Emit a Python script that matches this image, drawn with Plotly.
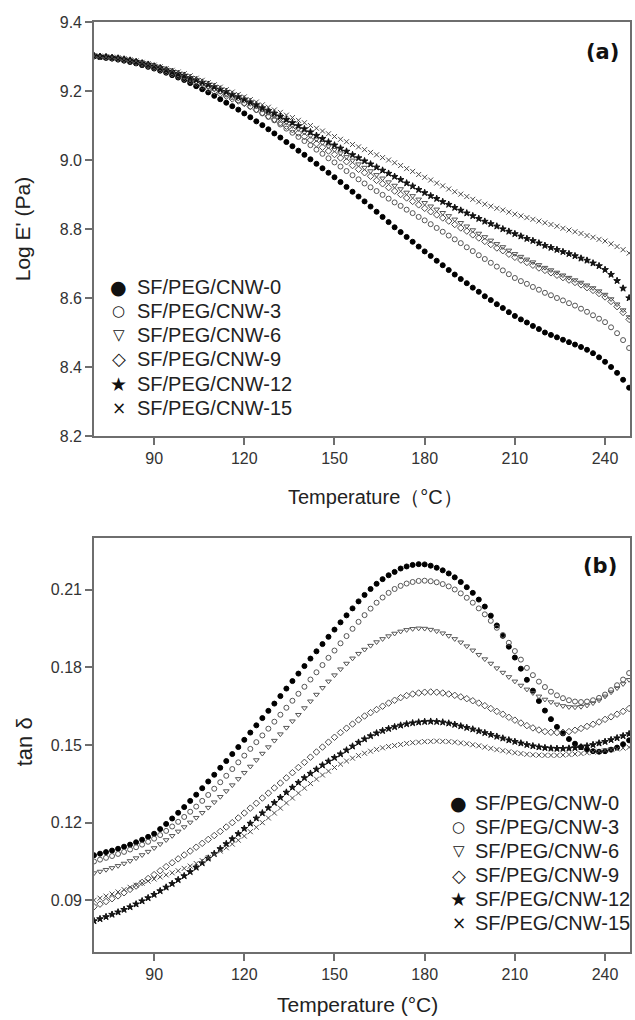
import plotly.graph_objects as go

# ---------------- data ----------------
temp = [70, 72, 74, 76, 78, 80,
        82, 84, 86, 88, 90,
        92, 94, 96, 98, 100,
        102, 104, 106, 108, 110,
        112, 114, 116, 118, 120,
        122, 124, 126, 128, 130,
        132, 134, 136, 138, 140,
        142, 144, 146, 148, 150,
        152, 154, 156, 158, 160,
        162, 164, 166, 168, 170,
        172, 174, 176, 178, 180,
        182, 184, 186, 188, 190,
        192, 194, 196, 198, 200,
        202, 204, 206, 208, 210,
        212, 214, 216, 218, 220,
        222, 224, 226, 228, 230,
        232, 234, 236, 238, 240,
        242, 244, 246, 248]

series_names = ["SF/PEG/CNW-0", "SF/PEG/CNW-3", "SF/PEG/CNW-6",
                "SF/PEG/CNW-9", "SF/PEG/CNW-12", "SF/PEG/CNW-15"]

# (a) Log E' (Pa)
logE_cnw0 = [9.300, 9.298, 9.296, 9.294, 9.291, 9.288,
             9.284, 9.280, 9.275, 9.270, 9.265,
             9.259, 9.253, 9.246, 9.239, 9.232,
             9.223, 9.214, 9.205, 9.196, 9.186,
             9.176, 9.166, 9.156, 9.146, 9.135,
             9.124, 9.112, 9.101, 9.089, 9.077,
             9.065, 9.052, 9.040, 9.027, 9.015,
             9.002, 8.989, 8.976, 8.963, 8.950,
             8.936, 8.922, 8.908, 8.894, 8.880,
             8.865, 8.850, 8.835, 8.820, 8.805,
             8.791, 8.777, 8.763, 8.749, 8.735,
             8.722, 8.708, 8.695, 8.681, 8.668,
             8.655, 8.643, 8.630, 8.618, 8.605,
             8.594, 8.582, 8.571, 8.559, 8.548,
             8.538, 8.529, 8.519, 8.510, 8.500,
             8.493, 8.486, 8.479, 8.472, 8.465,
             8.458, 8.450, 8.440, 8.428, 8.415,
             8.400, 8.383, 8.363, 8.340]
logE_cnw3 = [9.302, 9.300, 9.299, 9.297, 9.295, 9.292,
             9.289, 9.285, 9.281, 9.277, 9.272,
             9.266, 9.261, 9.255, 9.249, 9.243,
             9.236, 9.229, 9.222, 9.214, 9.207,
             9.199, 9.190, 9.182, 9.173, 9.165,
             9.155, 9.145, 9.135, 9.125, 9.115,
             9.103, 9.091, 9.079, 9.067, 9.055,
             9.043, 9.030, 9.018, 9.005, 8.993,
             8.981, 8.968, 8.956, 8.944, 8.932,
             8.921, 8.910, 8.899, 8.888, 8.877,
             8.867, 8.856, 8.846, 8.835, 8.825,
             8.814, 8.803, 8.792, 8.781, 8.770,
             8.759, 8.747, 8.736, 8.724, 8.713,
             8.702, 8.691, 8.680, 8.669, 8.658,
             8.649, 8.641, 8.632, 8.624, 8.615,
             8.608, 8.600, 8.593, 8.585, 8.578,
             8.569, 8.560, 8.550, 8.540, 8.530,
             8.515, 8.498, 8.478, 8.455]
logE_cnw6 = [9.302, 9.300, 9.298, 9.296, 9.294, 9.291,
             9.288, 9.284, 9.280, 9.275, 9.270,
             9.265, 9.259, 9.253, 9.247, 9.240,
             9.233, 9.226, 9.219, 9.212, 9.205,
             9.198, 9.192, 9.185, 9.178, 9.172,
             9.163, 9.155, 9.146, 9.137, 9.128,
             9.118, 9.109, 9.099, 9.090, 9.080,
             9.070, 9.060, 9.050, 9.040, 9.030,
             9.020, 9.009, 8.999, 8.988, 8.978,
             8.968, 8.957, 8.947, 8.936, 8.926,
             8.916, 8.906, 8.896, 8.886, 8.876,
             8.866, 8.857, 8.847, 8.838, 8.828,
             8.818, 8.808, 8.797, 8.787, 8.777,
             8.767, 8.757, 8.748, 8.738, 8.728,
             8.720, 8.712, 8.704, 8.696, 8.688,
             8.681, 8.674, 8.666, 8.659, 8.652,
             8.645, 8.637, 8.629, 8.620, 8.610,
             8.597, 8.582, 8.565, 8.545]
logE_cnw9 = [9.302, 9.300, 9.298, 9.295, 9.293, 9.290,
             9.287, 9.282, 9.278, 9.273, 9.268,
             9.262, 9.256, 9.250, 9.243, 9.236,
             9.229, 9.222, 9.214, 9.206, 9.199,
             9.192, 9.185, 9.177, 9.171, 9.164,
             9.155, 9.146, 9.137, 9.127, 9.118,
             9.108, 9.098, 9.088, 9.078, 9.068,
             9.058, 9.047, 9.037, 9.026, 9.016,
             9.006, 8.995, 8.984, 8.973, 8.963,
             8.953, 8.941, 8.931, 8.920, 8.910,
             8.900, 8.890, 8.880, 8.870, 8.860,
             8.850, 8.841, 8.832, 8.823, 8.813,
             8.803, 8.794, 8.783, 8.774, 8.764,
             8.755, 8.745, 8.737, 8.727, 8.718,
             8.710, 8.703, 8.695, 8.687, 8.680,
             8.673, 8.666, 8.659, 8.652, 8.645,
             8.638, 8.630, 8.622, 8.613, 8.603,
             8.590, 8.575, 8.558, 8.538]
logE_cnw12 = [9.302, 9.300, 9.299, 9.297, 9.295, 9.292,
              9.289, 9.285, 9.281, 9.277, 9.272,
              9.267, 9.261, 9.256, 9.250, 9.245,
              9.238, 9.232, 9.225, 9.219, 9.212,
              9.205, 9.198, 9.190, 9.183, 9.176,
              9.168, 9.160, 9.151, 9.143, 9.135,
              9.126, 9.117, 9.108, 9.099, 9.090,
              9.081, 9.071, 9.062, 9.052, 9.043,
              9.034, 9.025, 9.015, 9.006, 8.997,
              8.988, 8.979, 8.970, 8.961, 8.952,
              8.943, 8.933, 8.924, 8.914, 8.905,
              8.896, 8.888, 8.879, 8.871, 8.862,
              8.854, 8.846, 8.838, 8.830, 8.822,
              8.815, 8.808, 8.800, 8.793, 8.786,
              8.779, 8.772, 8.766, 8.759, 8.752,
              8.746, 8.740, 8.734, 8.728, 8.722,
              8.715, 8.709, 8.701, 8.693, 8.682,
              8.668, 8.650, 8.628, 8.600]
logE_cnw15 = [9.302, 9.301, 9.299, 9.298, 9.296, 9.293,
              9.290, 9.287, 9.283, 9.279, 9.275,
              9.270, 9.265, 9.260, 9.255, 9.250,
              9.244, 9.237, 9.231, 9.224, 9.218,
              9.211, 9.204, 9.197, 9.190, 9.183,
              9.175, 9.168, 9.160, 9.153, 9.145,
              9.138, 9.130, 9.123, 9.115, 9.108,
              9.100, 9.092, 9.084, 9.076, 9.068,
              9.060, 9.053, 9.045, 9.038, 9.030,
              9.022, 9.015, 9.007, 9.000, 8.992,
              8.984, 8.975, 8.967, 8.958, 8.950,
              8.942, 8.933, 8.925, 8.916, 8.908,
              8.901, 8.894, 8.886, 8.879, 8.872,
              8.866, 8.860, 8.855, 8.849, 8.843,
              8.838, 8.833, 8.828, 8.823, 8.818,
              8.813, 8.808, 8.802, 8.797, 8.792,
              8.787, 8.781, 8.776, 8.770, 8.765,
              8.757, 8.749, 8.740, 8.730]

# (b) tan delta
tan_cnw0 = [0.1074, 0.1080, 0.1086, 0.1092, 0.1099, 0.1107,
            0.1115, 0.1124, 0.1134, 0.1145, 0.1157,
            0.1175, 0.1195, 0.1216, 0.1238, 0.1260,
            0.1284, 0.1308, 0.1333, 0.1359, 0.1385,
            0.1412, 0.1438, 0.1465, 0.1492, 0.1520,
            0.1548, 0.1576, 0.1604, 0.1632, 0.1660,
            0.1689, 0.1718, 0.1747, 0.1776, 0.1805,
            0.1834, 0.1862, 0.1890, 0.1918, 0.1946,
            0.1974, 0.2001, 0.2028, 0.2055, 0.2080,
            0.2103, 0.2123, 0.2141, 0.2156, 0.2169,
            0.2182, 0.2190, 0.2196, 0.2199, 0.2198,
            0.2193, 0.2185, 0.2175, 0.2163, 0.2148,
            0.2130, 0.2110, 0.2088, 0.2062, 0.2035,
            0.2000, 0.1962, 0.1922, 0.1880, 0.1838,
            0.1795, 0.1752, 0.1710, 0.1670, 0.1633,
            0.1600, 0.1570, 0.1545, 0.1523, 0.1505,
            0.1492, 0.1482, 0.1476, 0.1474, 0.1476,
            0.1482, 0.1490, 0.1503, 0.1518]
tan_cnw3 = [0.1050, 0.1057, 0.1064, 0.1071, 0.1079, 0.1087,
            0.1096, 0.1105, 0.1115, 0.1126, 0.1138,
            0.1152, 0.1168, 0.1185, 0.1203, 0.1222,
            0.1242, 0.1262, 0.1284, 0.1307, 0.1331,
            0.1356, 0.1381, 0.1407, 0.1433, 0.1459,
            0.1485, 0.1511, 0.1537, 0.1563, 0.1590,
            0.1617, 0.1644, 0.1671, 0.1698, 0.1725,
            0.1753, 0.1781, 0.1809, 0.1837, 0.1865,
            0.1893, 0.1921, 0.1949, 0.1976, 0.2002,
            0.2027, 0.2050, 0.2070, 0.2088, 0.2103,
            0.2115, 0.2124, 0.2130, 0.2134, 0.2135,
            0.2133, 0.2129, 0.2122, 0.2113, 0.2101,
            0.2086, 0.2069, 0.2050, 0.2028, 0.2005,
            0.1980, 0.1953, 0.1925, 0.1895, 0.1863,
            0.1830, 0.1798, 0.1770, 0.1745, 0.1724,
            0.1706, 0.1692, 0.1681, 0.1673, 0.1668,
            0.1666, 0.1668, 0.1673, 0.1682, 0.1695,
            0.1712, 0.1731, 0.1753, 0.1778]
tan_cnw6 = [0.1005, 0.1011, 0.1018, 0.1025, 0.1033, 0.1042,
            0.1052, 0.1063, 0.1075, 0.1088, 0.1102,
            0.1117, 0.1133, 0.1149, 0.1166, 0.1183,
            0.1201, 0.1219, 0.1238, 0.1258, 0.1279,
            0.1300, 0.1322, 0.1345, 0.1369, 0.1393,
            0.1417, 0.1442, 0.1467, 0.1492, 0.1517,
            0.1542, 0.1567, 0.1592, 0.1617, 0.1643,
            0.1669, 0.1695, 0.1721, 0.1746, 0.1770,
            0.1793, 0.1815, 0.1835, 0.1853, 0.1869,
            0.1884, 0.1898, 0.1910, 0.1921, 0.1931,
            0.1939, 0.1945, 0.1949, 0.1951, 0.1950,
            0.1946, 0.1940, 0.1932, 0.1922, 0.1910,
            0.1897, 0.1882, 0.1866, 0.1849, 0.1832,
            0.1815, 0.1797, 0.1780, 0.1763, 0.1746,
            0.1730, 0.1715, 0.1701, 0.1688, 0.1676,
            0.1666, 0.1657, 0.1651, 0.1647, 0.1646,
            0.1648, 0.1653, 0.1662, 0.1673, 0.1688,
            0.1704, 0.1720, 0.1736, 0.1752]
tan_cnw9 = [0.0875, 0.0885, 0.0895, 0.0906, 0.0917, 0.0929,
            0.0942, 0.0955, 0.0969, 0.0984, 0.0999,
            0.1014, 0.1030, 0.1045, 0.1060, 0.1075,
            0.1090, 0.1105, 0.1120, 0.1135, 0.1150,
            0.1166, 0.1183, 0.1200, 0.1218, 0.1237,
            0.1256, 0.1275, 0.1295, 0.1314, 0.1334,
            0.1353, 0.1373, 0.1393, 0.1413, 0.1433,
            0.1453, 0.1473, 0.1492, 0.1511, 0.1530,
            0.1548, 0.1565, 0.1581, 0.1597, 0.1612,
            0.1625, 0.1637, 0.1650, 0.1662, 0.1673,
            0.1683, 0.1691, 0.1697, 0.1701, 0.1704,
            0.1705, 0.1704, 0.1701, 0.1697, 0.1692,
            0.1686, 0.1679, 0.1671, 0.1662, 0.1652,
            0.1641, 0.1630, 0.1619, 0.1607, 0.1596,
            0.1585, 0.1575, 0.1566, 0.1558, 0.1552,
            0.1549, 0.1548, 0.1549, 0.1552, 0.1557,
            0.1564, 0.1572, 0.1580, 0.1589, 0.1599,
            0.1609, 0.1619, 0.1630, 0.1641]
tan_cnw12 = [0.0820, 0.0828, 0.0836, 0.0845, 0.0854, 0.0864,
             0.0874, 0.0885, 0.0897, 0.0909, 0.0922,
             0.0936, 0.0950, 0.0964, 0.0979, 0.0994,
             0.1010, 0.1027, 0.1044, 0.1062, 0.1080,
             0.1099, 0.1118, 0.1137, 0.1157, 0.1177,
             0.1197, 0.1217, 0.1237, 0.1257, 0.1277,
             0.1297, 0.1317, 0.1336, 0.1355, 0.1373,
             0.1390, 0.1406, 0.1422, 0.1437, 0.1451,
             0.1465, 0.1480, 0.1495, 0.1510, 0.1523,
             0.1535, 0.1546, 0.1555, 0.1563, 0.1570,
             0.1576, 0.1581, 0.1585, 0.1588, 0.1590,
             0.1591, 0.1590, 0.1588, 0.1584, 0.1579,
             0.1573, 0.1567, 0.1561, 0.1554, 0.1547,
             0.1540, 0.1533, 0.1526, 0.1519, 0.1513,
             0.1507, 0.1501, 0.1496, 0.1492, 0.1489,
             0.1487, 0.1486, 0.1486, 0.1487, 0.1489,
             0.1492, 0.1496, 0.1501, 0.1507, 0.1513,
             0.1520, 0.1527, 0.1535, 0.1543]
tan_cnw15 = [0.0900, 0.0908, 0.0916, 0.0924, 0.0932, 0.0941,
             0.0950, 0.0958, 0.0966, 0.0974, 0.0982,
             0.0990, 0.0998, 0.1006, 0.1014, 0.1023,
             0.1032, 0.1042, 0.1053, 0.1065, 0.1077,
             0.1090, 0.1103, 0.1117, 0.1132, 0.1148,
             0.1165, 0.1182, 0.1200, 0.1218, 0.1237,
             0.1256, 0.1276, 0.1295, 0.1314, 0.1333,
             0.1351, 0.1368, 0.1384, 0.1399, 0.1413,
             0.1426, 0.1438, 0.1449, 0.1459, 0.1468,
             0.1476, 0.1483, 0.1489, 0.1494, 0.1498,
             0.1502, 0.1506, 0.1509, 0.1511, 0.1513,
             0.1514, 0.1515, 0.1514, 0.1513, 0.1511,
             0.1508, 0.1505, 0.1501, 0.1497, 0.1492,
             0.1487, 0.1482, 0.1478, 0.1474, 0.1470,
             0.1467, 0.1464, 0.1462, 0.1461, 0.1460,
             0.1460, 0.1460, 0.1461, 0.1463, 0.1465,
             0.1467, 0.1470, 0.1473, 0.1476, 0.1479,
             0.1482, 0.1485, 0.1488, 0.1491]

x_ticks = [90, 120, 150, 180, 210, 240]
logE_ticks = [8.2, 8.4, 8.6, 8.8, 9.0, 9.2, 9.4]
tan_ticks = [0.09, 0.12, 0.15, 0.18, 0.21]

top_series = [logE_cnw0, logE_cnw3, logE_cnw6, logE_cnw9, logE_cnw12, logE_cnw15]
bot_series = [tan_cnw0, tan_cnw3, tan_cnw6, tan_cnw9, tan_cnw12, tan_cnw15]

# ---------------- styles ----------------
symbols = ["circle", "circle-open", "triangle-down-open", "diamond-open", "star", "x-thin-open"]
colors = ["#000000", "#555555", "#555555", "#4a4a4a", "#111111", "#4a4a4a"]
sizes = [5, 5, 5, 5, 5, 5]
# legend key glyphs (text) and their font sizes
leg_glyphs = ["●", "○", "▽", "◇", "★", "×"]
leg_glyph_sizes = [19, 15, 15, 18, 19, 17]

FONT = "Liberation Sans, Arial, sans-serif"
W, H = 635, 1020
L, R, T, B = 94, 3, 22, 68


def px(x):
    return (x - L) / (W - L - R)


def py(y):
    return (H - B - y) / (H - T - B)


fig = go.Figure()

for xa, ya, data in (("x", "y", top_series), ("x2", "y2", bot_series)):
    for i, ys in enumerate(data):
        fig.add_trace(go.Scatter(
            x=temp, y=ys, mode="markers", name=series_names[i],
            xaxis=xa, yaxis=ya, showlegend=False, cliponaxis=True,
            marker=dict(symbol=symbols[i], size=sizes[i], color=colors[i],
                        line=dict(width=1, color=colors[i])),
        ))

axis_common = dict(
    showline=True, linecolor="#6e6e6e", linewidth=1.6, mirror=True,
    ticks="outside", ticklen=7, tickwidth=1.5, tickcolor="#6e6e6e",
    showgrid=False, zeroline=False,
    tickfont=dict(family=FONT, size=16, color="#333333"),
)

annotations = []
# legends (key glyph + label) drawn as text
legend_specs = [
    (119, 135, [287, 311, 335, 359, 384, 408]),
    (460, 474, [803, 827, 851, 875, 899, 923]),
]
for sym_x, txt_x, rows in legend_specs:
    for i, ry in enumerate(rows):
        annotations.append(dict(
            text=leg_glyphs[i], xref="paper", yref="paper", x=px(sym_x), y=py(ry),
            showarrow=False, xanchor="center", yanchor="middle",
            font=dict(family="DejaVu Sans", size=leg_glyph_sizes[i], color="#111111")))
        annotations.append(dict(
            text=series_names[i], xref="paper", yref="paper", x=px(txt_x), y=py(ry),
            showarrow=False, xanchor="left", yanchor="middle",
            font=dict(family=FONT, size=20, color="#222222")))

annotations += [
    dict(text="<b>(a)</b>", xref="paper", yref="paper", x=px(604), y=py(52),
         showarrow=False, font=dict(family="DejaVu Sans", size=21, color="#111111"),
         xanchor="center", yanchor="middle"),
    dict(text="<b>(b)</b>", xref="paper", yref="paper", x=px(602), y=py(566),
         showarrow=False, font=dict(family="DejaVu Sans", size=21, color="#111111"),
         xanchor="center", yanchor="middle"),
    dict(text="Temperature（°C）", xref="paper", yref="paper", x=px(377), y=py(497),
         showarrow=False, font=dict(family=FONT, size=20, color="#222222"),
         xanchor="center", yanchor="middle"),
    dict(text="Temperature (°C)", xref="paper", yref="paper", x=px(358), y=py(1005),
         showarrow=False, font=dict(family=FONT, size=21, color="#222222"),
         xanchor="center", yanchor="middle"),
    dict(text="Log E' (Pa)", xref="paper", yref="paper", x=px(23), y=py(229),
         showarrow=False, textangle=-90, font=dict(family=FONT, size=21, color="#222222"),
         xanchor="center", yanchor="middle"),
    dict(text="tan δ", xref="paper", yref="paper", x=px(24), y=py(742),
         showarrow=False, textangle=-90, font=dict(family=FONT, size=22, color="#222222"),
         xanchor="center", yanchor="middle"),
]

fig.update_layout(
    width=W, height=H,
    margin=dict(l=L, r=R, t=T, b=B),
    paper_bgcolor="white", plot_bgcolor="white",
    font=dict(family=FONT, color="#222222"),
    showlegend=False,
    xaxis=dict(domain=[0, 1], anchor="y", range=[70, 248.3],
               tickvals=x_ticks, **axis_common),
    yaxis=dict(domain=[py(436), 1], anchor="x", range=[8.2, 9.4],
               tickvals=logE_ticks, ticktext=[f"{v:.1f}" for v in logE_ticks],
               **axis_common),
    xaxis2=dict(domain=[0, 1], anchor="y2", range=[70, 248.3],
                tickvals=x_ticks, **axis_common),
    yaxis2=dict(domain=[0, py(538)], anchor="x2", range=[0.07, 0.23],
                tickvals=tan_ticks, ticktext=[f"{v:.2f}" for v in tan_ticks],
                **axis_common),
    annotations=annotations,
)

fig.write_html("out.html", config={"displayModeBar": False},
               post_script="document.body.style.margin='0px';")
